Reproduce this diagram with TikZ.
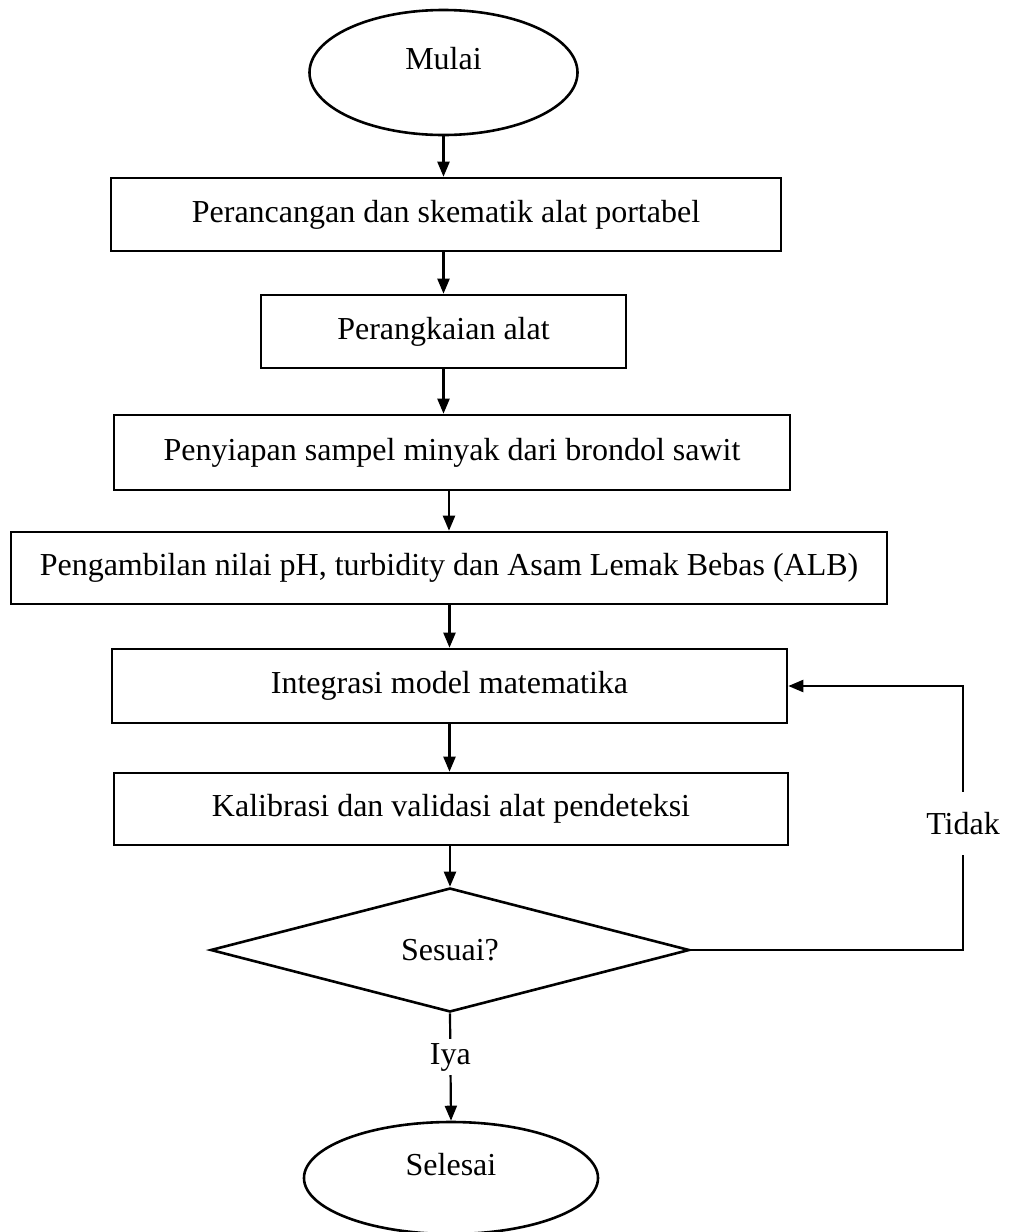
\documentclass[tikz,border=0pt]{standalone}
\usepackage{fontspec}
\setmainfont{Liberation Serif}
\usetikzlibrary{shapes.geometric,arrows.meta}
\begin{document}
\begin{tikzpicture}[x=1pt,y=-1pt,
  every node/.style={font=\fontsize{32}{38}\selectfont},
  procbox/.style={draw, line width=2.6pt, rectangle, inner sep=0pt},
  termnode/.style={draw, line width=2.6pt, ellipse, inner sep=0pt},
  decnode/.style={draw, line width=2.6pt, diamond, inner sep=0pt},
  arr/.style={line width=2.2pt, -{Triangle[length=15pt,width=12pt]}},
  lbl/.style={fill=white, inner xsep=2pt}]
\useasboundingbox (0,0) rectangle (1010,1232);
\node[termnode, minimum width=268pt, minimum height=125pt,
  label={[yshift=14pt]center:Mulai}] (mulai) at (443.5,72.5) {};
\node[procbox, minimum width=670pt, minimum height=73pt] (b1) at (446,214.5) {Perancangan dan skematik alat portabel};
\node[procbox, minimum width=365pt, minimum height=73pt] (b2) at (443.5,331.5) {Perangkaian alat};
\node[procbox, minimum width=676pt, minimum height=75pt] (b3) at (452,452.5) {Penyiapan sampel minyak dari brondol sawit};
\node[procbox, minimum width=876pt, minimum height=72pt] (b4) at (449,568) {Pengambilan nilai pH, turbidity dan Asam Lemak Bebas (ALB)};
\node[procbox, minimum width=675pt, minimum height=74pt] (b5) at (449.5,686) {Integrasi model matematika};
\node[procbox, minimum width=674pt, minimum height=72pt] (b6) at (451,809) {Kalibrasi dan validasi alat pendeteksi};
\node[decnode, minimum width=479pt, minimum height=124pt] (dec) at (450,950) {Sesuai?};
\node[termnode, minimum width=294pt, minimum height=112pt,
  label={[yshift=13pt]center:Selesai}] (selesai) at (451,1178) {};
\coordinate (c1) at (963,950);
\coordinate (c2) at (963,686);
\draw[arr] (mulai.south) -- (mulai.south |- b1.north);
\draw[arr] (b1.south -| b2.north) -- (b2.north);
\draw[arr] (b2.south) -- (b2.south |- b3.north);
\draw[arr] (b3.south -| b4.north) -- (b4.north);
\draw[arr] (b4.south -| b5.north) -- (b5.north);
\draw[arr] (b5.south) -- (b5.south |- b6.north);
\draw[arr] (b6.south -| dec.north) -- (dec.north);
\draw[arr] (dec.south) -- node[lbl, pos=0.41, inner ysep=4pt] {Iya} (selesai.north);
\draw[arr] (dec.east) -- (c1) -- node[lbl, pos=0.48, inner ysep=20pt] {Tidak} (c2) -- (b5.east);
\end{tikzpicture}
\end{document}
